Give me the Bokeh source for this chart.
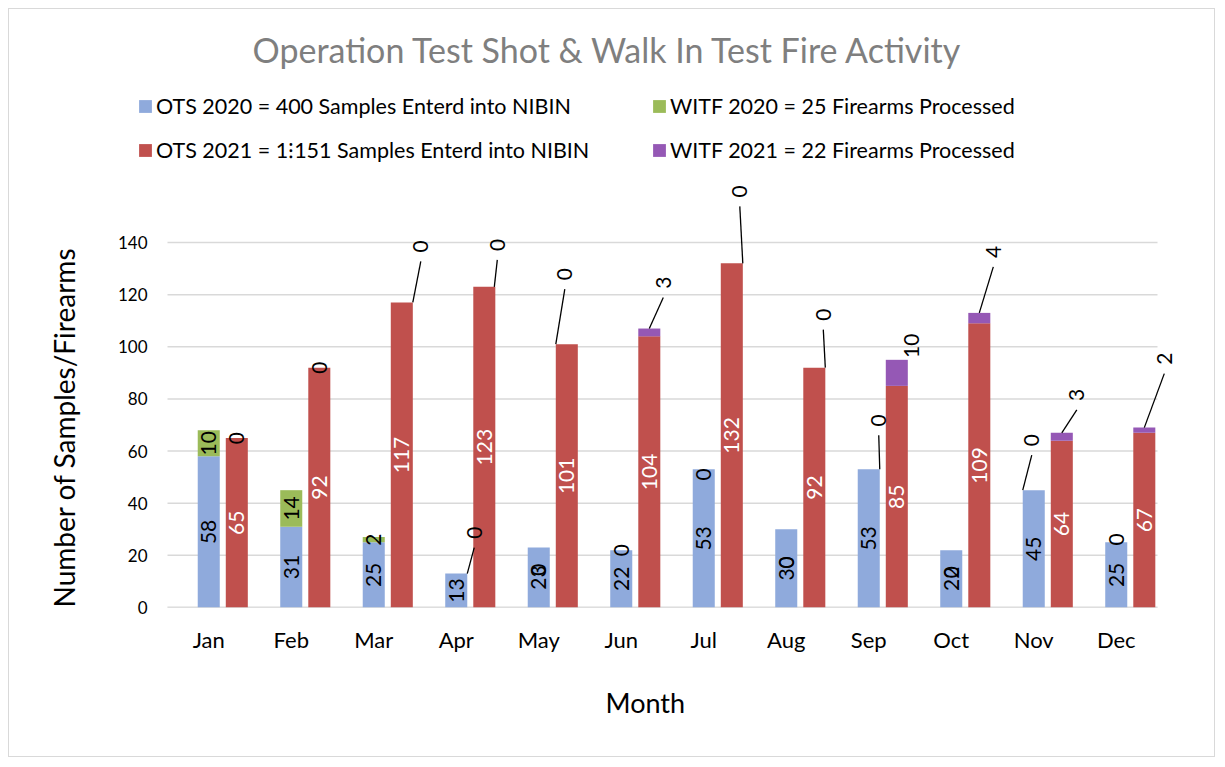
import math
from bokeh.plotting import figure
from bokeh.models import ColumnDataSource, Range1d, FixedTicker, Legend, LegendItem, Title
from bokeh.core.properties import value
from bokeh.embed import file_html
from bokeh.resources import INLINE

# ---------------- data ----------------
months = ["Jan", "Feb", "Mar", "Apr", "May", "Jun", "Jul", "Aug", "Sep", "Oct", "Nov", "Dec"]
ots_2020 = [58, 31, 25, 13, 23, 22, 53, 30, 53, 22, 45, 25]
witf_2020 = [10, 14, 2, 0, 0, 0, 0, 0, 0, 0, 0, 0]
ots_2021 = [65, 92, 117, 123, 101, 104, 132, 92, 85, 109, 64, 67]
witf_2021 = [0, 0, 0, 0, 0, 3, 0, 0, 10, 4, 3, 2]
y_ticks = [0, 20, 40, 60, 80, 100, 120, 140]
series_names = [
    "OTS 2020 = 400 Samples Enterd into NIBIN",
    "OTS 2021 = 1\u205d151 Samples Enterd into NIBIN",
    "WITF 2020 = 25 Firearms Processed",
    "WITF 2021 = 22 Firearms Processed",
]
title_text = "Operation Test Shot & Walk In Test Fire Activity"
x_title = "Month"
y_title = "Number of Samples/Firearms"

# ---------------- layout / style ----------------
W, H = 1207, 749
MB_L, MB_R, MB_T, MB_B = 121, 36, 76, 151
frame_w = W - MB_L - MB_R
frame_h = H - MB_T - MB_B
CAT_PX = 82.5                     # pixels per month slot
LEFT_PAD_PX = 37                  # frame space left of the first month slot
Y_TOP = 140 * frame_h / 365.0     # the 140 gridline sits 365 px above the baseline
px_x = CAT_PX
px_y = frame_h / Y_TOP
X_START = -0.5 - LEFT_PAD_PX / CAT_PX
X_END = X_START + frame_w / CAT_PX

BAR_W = 0.267
RED_SHIFT = 0.34
C_BLUE, C_RED, C_GREEN, C_PURPLE = "#8faadc", "#c0504d", "#9bbb59", "#9558b5"
GRID = "#d9d9d9"
FONT = "Lato"
LBL_SIZE = "21px"

# data-label placement offsets in pixels (+x right, -y up) and leader-line start side
w20_dx = [0, 0, 0, 18, 0, 0, 0, 0, 10, 0, -2, 0]
w20_dy = [0, 0, 0, -41, 22, 0, 5, 33, -49, 22, -50, -3]
w20_line = [None, None, None, 11, None, None, None, None, 11, None, -11, None]
w21_dx = [0, 0, 19, 13, -2, 14, 8, 9, 15, 14, 15, 20]
w21_dy = [0, 0, -56, -42, -70, -46, -72, -53, -14, -61, -38, -69]
w21_line = [None, None, 11, 10, -11, 0, 11, 11, None, 0, 0, 0]

xs = list(range(len(months)))
xr = [x + RED_SHIFT for x in xs]
top20 = [a + b for a, b in zip(ots_2020, witf_2020)]
top21 = [a + b for a, b in zip(ots_2021, witf_2021)]

p = figure(width=W, height=H, x_range=Range1d(X_START, X_END), y_range=Range1d(0, Y_TOP),
           output_backend="svg", toolbar_location=None,
           min_border_left=MB_L, min_border_right=MB_R, min_border_top=MB_T, min_border_bottom=MB_B)
p.outline_line_color = None
p.background_fill_color = "white"
p.border_fill_color = "white"
p.styles = {"margin": "8px", "border": "1px solid #d9d9d9"}

# horizontal gridlines across the 12 month slots, and the category baseline
p.segment(x0=[-0.5] * len(y_ticks), x1=[11.5] * len(y_ticks), y0=y_ticks, y1=y_ticks,
          line_color=GRID, line_width=1.5)
p.segment(x0=[-0.5], x1=[11.5], y0=[0], y1=[0], line_color="#cfcfcf", line_width=1.5)

r_blue = p.vbar(x=xs, bottom=0, top=ots_2020, width=BAR_W, fill_color=C_BLUE, line_color=None)
r_green = p.vbar(x=xs, bottom=ots_2020, top=top20, width=BAR_W, fill_color=C_GREEN, line_color=None)
r_red = p.vbar(x=xr, bottom=0, top=ots_2021, width=BAR_W, fill_color=C_RED, line_color=None)
r_purple = p.vbar(x=xr, bottom=ots_2021, top=top21, width=BAR_W, fill_color=C_PURPLE, line_color=None)

common = dict(angle=math.pi / 2, text_align="center", text_baseline="middle",
              text_font=value(FONT), text_font_size=LBL_SIZE)

p.text(x=xs, y=[v / 2 for v in ots_2020], text=[str(v) for v in ots_2020], text_color="black", **common)
p.text(x=xr, y=[v / 2 for v in ots_2021], text=[str(v) for v in ots_2021], text_color="white", **common)

src20 = ColumnDataSource(dict(x=xs, y=[o + w / 2 for o, w in zip(ots_2020, witf_2020)],
                              t=[str(v) for v in witf_2020], dx=w20_dx, dy=w20_dy))
p.text(x="x", y="y", text="t", x_offset="dx", y_offset="dy", source=src20, text_color="black", **common)
src21 = ColumnDataSource(dict(x=xr, y=top21, t=[str(v) for v in witf_2021], dx=w21_dx, dy=w21_dy))
p.text(x="x", y="y", text="t", x_offset="dx", y_offset="dy", source=src21, text_color="black", **common)

# leader lines
lx0, ly0, lx1, ly1 = [], [], [], []
for xc, yt, side, dx, dy in list(zip(xs, top20, w20_line, w20_dx, w20_dy)) + list(zip(xr, top21, w21_line, w21_dx, w21_dy)):
    if side is None:
        continue
    lx0.append(xc + side / px_x)
    ly0.append(yt)
    lx1.append(xc + dx / px_x)
    ly1.append(yt - (dy + 15) / px_y)
p.segment(x0=lx0, y0=ly0, x1=lx1, y1=ly1, line_color="black", line_width=1.3)

# axes
p.xaxis.ticker = FixedTicker(ticks=xs)
p.xaxis.major_label_overrides = {i: m for i, m in zip(xs, months)}
p.xaxis.major_tick_line_color = None
p.xaxis.minor_tick_line_color = None
p.xaxis.axis_line_color = None
p.xaxis.major_label_text_font = FONT
p.xaxis.major_label_text_font_size = "22px"
p.xaxis.major_label_text_color = "black"
p.xaxis.major_label_standoff = 12

p.yaxis.ticker = FixedTicker(ticks=y_ticks)
p.yaxis.major_tick_line_color = None
p.yaxis.major_tick_out = 0
p.yaxis.minor_tick_line_color = None
p.yaxis.axis_line_color = None
p.yaxis.major_label_text_font = FONT
p.yaxis.major_label_text_font_size = "17px"
p.yaxis.major_label_text_color = "black"
p.yaxis.major_label_standoff = -17

p.xgrid.grid_line_color = None
p.ygrid.grid_line_color = None

# titles
p.title.text = title_text
p.title.text_font = FONT
p.title.text_font_size = "34px"
p.title.text_font_style = "normal"
p.title.text_color = "#7f7f7f"
p.title.align = "left"
p.title.offset = 122
p.title.standoff = 31

yt_title = Title(text=y_title, align="left", offset=0, text_font=FONT, text_font_size="28px",
                 text_font_style="normal", text_color="black", standoff=68)
p.add_layout(yt_title, "left")
xt_title = Title(text=x_title, align="left", offset=475, text_font=FONT, text_font_size="27px",
                 text_font_style="normal", text_color="black", standoff=56)
p.add_layout(xt_title, "below")

# legend: two rows (2020 on top, 2021 below), columns aligned through a fixed label width
leg_common = dict(orientation="horizontal", padding=0, margin=0, spacing=20, label_width=475,
                  glyph_width=16, glyph_height=16, label_height=16, label_standoff=3,
                  border_line_color=None, background_fill_alpha=0,
                  label_text_font=FONT, label_text_font_size="21.5px", label_text_color="black")
leg1 = Legend(items=[LegendItem(label=series_names[0], renderers=[r_blue]),
                     LegendItem(label=series_names[2], renderers=[r_green])],
              location=(7, 488), **leg_common)
leg2 = Legend(items=[LegendItem(label=series_names[1], renderers=[r_red]),
                     LegendItem(label=series_names[3], renderers=[r_purple])],
              location=(7, 443), **leg_common)
p.add_layout(leg1)
p.add_layout(leg2)

open("out.html", "w").write(file_html(p, INLINE))
